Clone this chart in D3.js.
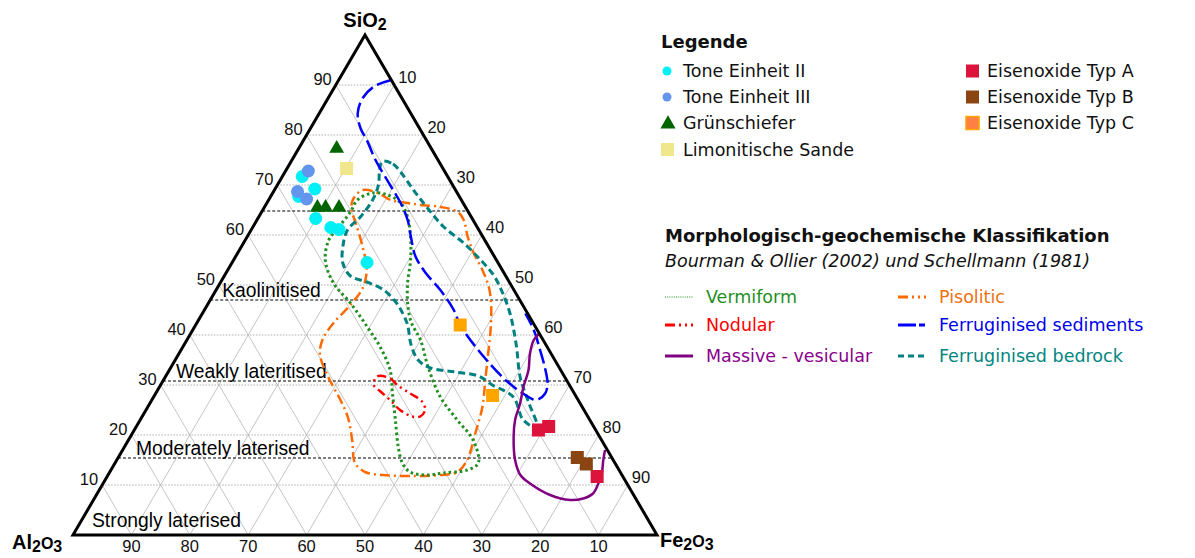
<!DOCTYPE html>
<html>
<head>
<meta charset="utf-8">
<script src="https://cdn.jsdelivr.net/npm/d3@7"></script>
<style>
body { margin: 0; background: #fff; }
svg { display: block; }
</style>
</head>
<body>
<script>
// all values in percent: [SiO2, Fe2O3]  (Al2O3 = 100 - both)

// sample points
const toneII = [[71.7, 3.4], [69.2, 6.8], [67.7, 4.8], [63.3, 9.9], [61.5, 13.4], [61.1, 15.0], [54.5, 23.1]];
const toneIII = [[72.8, 3.9], [68.7, 4.1], [67.2, 6.4]];
const gruenschiefer = [[77.3, 6.5], [65.5, 9.1], [65.5, 10.5], [65.5, 12.8]];
const limonit = [[73.3, 10.2]];
const typA = [[21.0, 69.2], [21.7, 70.6], [11.7, 83.9]];
const typB = [[15.5, 78.6], [14.2, 80.8]];
const typC = [[42.0, 45.3], [27.9, 57.9]];

// classification fields (Bourman & Ollier / Schellmann)
const vermiform = [[64.6, 15.2], [67, 15.2], [68.4, 17.1], [68, 19.9], [66.4, 22.9], [63.6, 25.5], [59.6, 28.0],
  [55, 30.3], [50.4, 32.1], [46.4, 34.1], [42.6, 36.6], [39, 40.0], [33.6, 44.0], [27.6, 49.1], [23, 54.3],
  [19, 59.0], [14.4, 62.2], [13, 61.0], [12.4, 57.2], [12, 54.6], [12.6, 51.4], [14.4, 49.2], [17.6, 46.9],
  [23, 43.7], [28.4, 40.5], [33, 37.8], [37.6, 33.8], [41.6, 29.6], [46.4, 24.3], [50.4, 19.4], [55, 15.7],
  [59, 14.3], [61.6, 14.7]];
const pisolitic = [[67, 14.4], [69, 15.1], [68.4, 18.0], [67, 20.9], [66.4, 24.1], [66, 26.5], [65.6, 30.2],
  [64.6, 33.6], [63, 35.4], [59.6, 37.8], [56.4, 40.4], [53, 43.6], [49.6, 46.4], [46, 48.6], [41, 51.0],
  [36.4, 52.9], [31, 55.1], [25.6, 57.3], [20.4, 58.7], [15, 60.0], [12.6, 59.5], [12, 56.9], [11.8, 51.8],
  [12, 47.1], [12.6, 43.7], [14.4, 41.1], [19, 38.3], [23.4, 35.4], [27, 32.3], [31.6, 27.9], [36, 24.3],
  [39, 23.2], [42.4, 23.4], [46, 24.5], [49.4, 24.9], [53, 23.8], [57.6, 20.8], [62.4, 17.2], [65, 15.2]];
const nodular = [[31.7, 36.2], [31.3, 38.7], [30, 40.5], [28.3, 43.6], [26.7, 46.4], [25, 47.8], [23.7, 47.6],
  [23.7, 46.2], [25, 43.5], [27, 40.8], [28.7, 38.3], [30, 36.5]];
const bedrock = [[74.7, 15.6], [74.2, 17.7], [72.6, 19.8], [69, 23.8], [65.4, 28.0], [61.6, 32.7], [58.4, 37.7],
  [55, 42.3], [52, 46.0], [48.6, 49.2], [44, 52.9], [38, 56.9], [31.4, 60.9], [26.6, 64.7], [21.4, 68.8],
  [23, 65.6], [27.6, 61.6], [30, 56.8], [31.8, 53.5], [32.6, 49.2], [33.4, 44.5], [35, 41.6], [38, 38.9],
  [42, 36.3], [44, 34.6], [46.4, 32.2], [49, 28.7], [50.6, 25.0], [51.8, 21.6], [54.4, 19.0], [57.6, 17.4],
  [61, 16.5], [63.6, 17.4], [67, 17.8], [70, 17.3], [73, 16.0]];
const sediments = [[91, 9], [89.7, 6.7], [87.3, 5.9], [84.3, 6.6], [81.3, 8.6], [79, 10.8], [75, 14.3],
  [69.7, 19.6], [66.4, 22.9], [63, 25.8], [59.7, 28.0], [55.7, 30.8], [52.4, 34.2], [49, 38.4], [45, 42.7],
  [42, 45.3], [36.4, 51.6], [30.7, 59.0], [27.4, 64.6], [27, 65.9], [28.3, 66.7], [30.3, 66.1], [33, 64.4],
  [36.7, 61.7], [41, 58.4], [44.3, 55.3]];
const massive = [[40.3, 59.7], [39, 59.4], [36.3, 60.1], [33, 61.5], [29.7, 62.3], [26.3, 63.4], [23, 64.2],
  [19.7, 65.6], [15, 68.2], [12, 70.6], [10.3, 73.1], [8, 77.7], [7, 81.6], [7.3, 83.7], [8.3, 84.9],
  [10.3, 84.8], [12.3, 84.4], [15, 83.3], [17, 82.6]];

// SiO2 boundaries of the weathering zones
const zoneLevels = [64.8, 47, 30.8, 15.4];
const zoneNames = ["", "Kaolinitised", "Weakly lateritised", "Moderately laterised"];
const bottomZone = "Strongly laterised";

const tickValues = [10, 20, 30, 40, 50, 60, 70, 80, 90];

const pointLegend = ["Tone Einheit II", "Tone Einheit III", "Grünschiefer", "Limonitische Sande"];
const oxideLegend = ["Eisenoxide Typ A", "Eisenoxide Typ B", "Eisenoxide Typ C"];
const fieldLegendLeft = ["Vermiform", "Nodular", "Massive - vesicular"];
const fieldLegendRight = ["Pisolitic", "Ferruginised sediments", "Ferruginised bedrock"];

const width = 1195;
const height = 558;

const svg = d3.select("body")
    .append("svg")
    .attr("width", width)
    .attr("height", height);

// ternary projection built from linear scales
const ySi = d3.scaleLinear().domain([0, 100]).range([535, 35]);
const xSi = d3.scaleLinear().domain([0, 100]).range([0, 292]);
const xFe = d3.scaleLinear().domain([0, 100]).range([73, 657]);
const px = d => xFe(d[1]) + xSi(d[0]);
const py = d => ySi(d[0]);

const chartFont = "'Liberation Sans', Arial, sans-serif";
const legendFont = "'DejaVu Sans', sans-serif";

// grid
const grid = svg.append("g");
grid.selectAll(".h").data(tickValues).join("line")
    .attr("x1", k => px([k, 0])).attr("y1", k => py([k, 0]))
    .attr("x2", k => px([k, 100 - k])).attr("y2", k => py([k, 100 - k]))
    .attr("stroke", "#999").attr("stroke-width", 0.8).attr("stroke-dasharray", "1.5,1.5");
grid.selectAll(".fe").data(tickValues).join("line")
    .attr("x1", k => px([0, k])).attr("y1", k => py([0, k]))
    .attr("x2", k => px([100 - k, k])).attr("y2", k => py([100 - k, k]))
    .attr("stroke", "#b5b5b5").attr("stroke-width", 0.8);
grid.selectAll(".al").data(tickValues).join("line")
    .attr("x1", k => px([0, 100 - k])).attr("y1", k => py([0, 100 - k]))
    .attr("x2", k => px([100 - k, 0])).attr("y2", k => py([100 - k, 0]))
    .attr("stroke", "#b5b5b5").attr("stroke-width", 0.8);

// zone boundaries
svg.append("g").selectAll("line").data(zoneLevels).join("line")
    .attr("x1", s => px([s, 0])).attr("y1", s => py([s, 0]))
    .attr("x2", s => px([s, 100 - s])).attr("y2", s => py([s, 100 - s]))
    .attr("stroke", "#000").attr("stroke-width", 1.2).attr("stroke-dasharray", "3,2");

const zoneLabelDx = [13, 12, 13, 18];
svg.append("g").selectAll("text").data(zoneLevels).join("text")
    .attr("x", (s, i) => px([s, 0]) + zoneLabelDx[i])
    .attr("y", s => py([s, 0]) - 3)
    .attr("font-family", chartFont).attr("font-size", 19.3)
    .text((s, i) => zoneNames[i]);
svg.append("text")
    .attr("x", px([0, 0]) + 19).attr("y", py([0, 0]) - 8)
    .attr("font-family", chartFont).attr("font-size", 19.3)
    .text(bottomZone);

// field outlines
const closed = d3.line().x(px).y(py).curve(d3.curveCatmullRomClosed.alpha(0.5));
const open = d3.line().x(px).y(py).curve(d3.curveCatmullRom.alpha(0.5));

const fields = [
    {data: pisolitic, line: closed, color: "#ff6a00", w: 2.5, dash: "10,4,2,4"},
    {data: vermiform, line: closed, color: "#1f8f1f", w: 3, dash: "2.5,3"},
    {data: bedrock, line: closed, color: "#008080", w: 3, dash: "7,4"},
    {data: sediments, line: open, color: "#0000ff", w: 2.5, dash: "15,5"},
    {data: nodular, line: closed, color: "#ff0000", w: 2.5, dash: "9,4,2,4,2,4"},
    {data: massive, line: open, color: "#800080", w: 2.5, dash: null}
];
fields.forEach(f => {
    svg.append("path")
        .datum(f.data)
        .attr("fill", "none")
        .attr("stroke", f.color)
        .attr("stroke-width", f.w)
        .attr("stroke-dasharray", f.dash)
        .attr("d", f.line);
});

// sample points
const pts = svg.append("g");
pts.selectAll(".t2").data(toneII).join("circle")
    .attr("cx", px).attr("cy", py).attr("r", 6.5).attr("fill", "#00f0f5");
pts.selectAll(".t3").data(toneIII).join("circle")
    .attr("cx", px).attr("cy", py).attr("r", 6.5).attr("fill", "#6495ed");
pts.selectAll(".gs").data(gruenschiefer).join("path")
    .attr("transform", d => `translate(${px(d)},${py(d)})`)
    .attr("d", d3.symbol(d3.symbolTriangle, 95)).attr("fill", "#006400");
const square = (data, color) => pts.append("g").selectAll("rect").data(data).join("rect")
    .attr("x", d => px(d) - 6.5).attr("y", d => py(d) - 6.5)
    .attr("width", 13).attr("height", 13).attr("fill", color);
square(limonit, "#f0e68c");
square(typC, "#ffa500");
square(typA, "#dc143c");
square(typB, "#8b4513");

// triangle frame
svg.append("path")
    .datum([[100, 0], [0, 0], [0, 100]])
    .attr("d", d3.line().x(px).y(py).curve(d3.curveLinearClosed))
    .attr("fill", "none").attr("stroke", "#000").attr("stroke-width", 3)
    .attr("stroke-linejoin", "miter");

// tick labels
const tl = svg.append("g").attr("font-family", chartFont).attr("font-size", 16.5).attr("fill", "#111");
tl.selectAll(".l").data(tickValues).join("text")
    .attr("x", k => px([k, 0]) - 4).attr("y", k => py([k, 0]))
    .attr("text-anchor", "end").text(k => k);
tl.selectAll(".r").data(tickValues).join("text")
    .attr("x", k => px([100 - k, k]) + 4).attr("y", k => py([100 - k, k]) - 2)
    .attr("text-anchor", "start").text(k => k);
tl.selectAll(".b").data(tickValues).join("text")
    .attr("x", k => px([0, 100 - k])).attr("y", k => py([0, 100 - k]) + 17)
    .attr("text-anchor", "middle").text(k => k);

// axis titles
function formula(x, y, parts, anchor) {
    const t = svg.append("text").attr("x", x).attr("y", y)
        .attr("font-family", chartFont).attr("font-weight", "bold").attr("font-size", 20)
        .attr("text-anchor", anchor);
    parts.forEach(p => {
        t.append("tspan").text(p[0])
            .attr("font-size", p[1] ? 16 : 20)
            .attr("dy", p[1] === 1 ? 3 : (p[1] === -1 ? -3 : 0));
    });
}
formula(px([100, 0]), 27, [["SiO"], ["2", 1]], "middle");
formula(12, 549, [["Al"], ["2", 1], ["O", -1], ["3", 1]], "start");
formula(660, 547, [["Fe"], ["2", 1], ["O", -1], ["3", 1]], "start");

// legend: samples
const lg = svg.append("g").attr("font-family", legendFont).attr("font-size", 17.5).attr("fill", "#111");
lg.append("text").attr("x", 661).attr("y", 48).attr("font-weight", "bold").attr("font-size", 18).text("Legende");
const rowY = [71, 97, 123, 150];
lg.selectAll(".pl").data(pointLegend).join("text")
    .attr("x", 683).attr("y", (d, i) => rowY[i] + 6).text(d => d);
lg.append("circle").attr("cx", 667).attr("cy", rowY[0]).attr("r", 4.5).attr("fill", "#00f0f5");
lg.append("circle").attr("cx", 667).attr("cy", rowY[1]).attr("r", 4.5).attr("fill", "#6495ed");
lg.append("path").attr("transform", `translate(668,${rowY[2] + 1})`)
    .attr("d", d3.symbol(d3.symbolTriangle, 100)).attr("fill", "#006400");
lg.append("rect").attr("x", 661).attr("y", rowY[3] - 7).attr("width", 13).attr("height", 13).attr("fill", "#f0e68c");

const oxideColors = ["#dc143c", "#8b4513", "#ff7f45"];
lg.selectAll(".ol").data(oxideLegend).join("text")
    .attr("x", 987).attr("y", (d, i) => rowY[i] + 6).text(d => d);
lg.selectAll(".os").data(oxideLegend).join("rect")
    .attr("x", 966).attr("y", (d, i) => rowY[i] - 6.5).attr("width", 13).attr("height", 13)
    .attr("fill", (d, i) => oxideColors[i])
    .attr("stroke", (d, i) => i === 2 ? "#ffa500" : "none").attr("stroke-width", 1.5);

// legend: classification
lg.append("text").attr("x", 665).attr("y", 242).attr("font-weight", "bold").attr("font-size", 18)
    .text("Morphologisch-geochemische Klassifikation");
lg.append("text").attr("x", 665).attr("y", 267).attr("font-style", "italic")
    .text("Bourman & Ollier (2002) und Schellmann (1981)");

const fRowY = [297, 325, 356];
const leftStyles = [
    {color: "#1f8f1f", text: "#1f8f1f", w: 1.2, dash: "1,1.2"},
    {color: "#ff0000", text: "#ff0000", w: 3, dash: "10,4,2,4,2,4"},
    {color: "#800080", text: "#8b008b", w: 3, dash: null}
];
const rightStyles = [
    {color: "#ff6a00", text: "#f07010", w: 3, dash: "10,4,2,4,2,4"},
    {color: "#0000ff", text: "#0000ee", w: 3, dash: "18,3,6,20"},
    {color: "#008080", text: "#00857f", w: 3, dash: "6,4"}
];
function fieldLegend(names, styles, x0, xt) {
    names.forEach((n, i) => {
        const s = styles[i];
        lg.append("line").attr("x1", x0).attr("x2", x0 + 28)
            .attr("y1", fRowY[i]).attr("y2", fRowY[i])
            .attr("stroke", s.color).attr("stroke-width", s.w).attr("stroke-dasharray", s.dash);
        lg.append("text").attr("x", xt).attr("y", fRowY[i] + 6).attr("fill", s.text).text(n);
    });
}
fieldLegend(fieldLegendLeft, leftStyles, 665, 706);
fieldLegend(fieldLegendRight, rightStyles, 898, 939);
</script>
</body>
</html>
